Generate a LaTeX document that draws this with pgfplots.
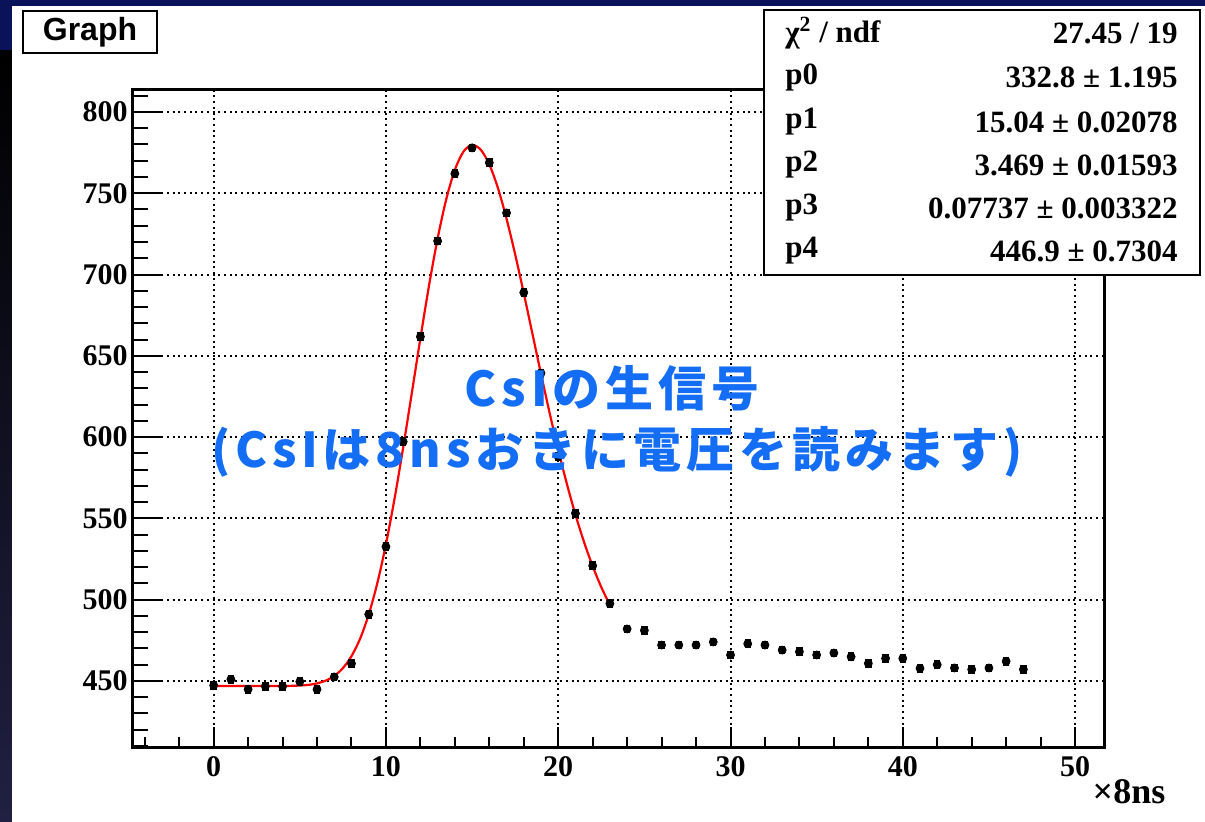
\documentclass[border=0pt]{standalone}
\usepackage{pgfplots}
\pgfplotsset{compat=1.18}
\usepackage{pgfplotstable}
\usepackage{fontspec}
\setmainfont{Liberation Serif}
\newfontfamily\helv{Liberation Sans}
\newfontfamily\jp[LetterSpace=10]{Noto Sans CJK JP}
\definecolor{navy}{RGB}{10,18,90}
\definecolor{txtblue}{RGB}{20,110,245}
\definecolor{strbot}{RGB}{32,32,66}
\definecolor{fitred}{RGB}{255,0,0}

\pgfplotstableread{
x y e
0 447.3 2.2
1 451.0 2.2
2 444.9 2.2
3 446.7 2.2
4 446.7 2.2
5 449.6 2.2
6 444.9 2.2
7 452.5 2.2
8 460.7 2.2
9 491.0 2.2
10 532.6 2.2
11 597.2 2.2
12 661.8 2.2
13 720.6 2.2
14 762.1 2.2
15 777.9 2.2
16 768.8 2.2
17 737.9 2.2
18 688.9 2.2
19 639.3 2.2
20 588.0 2.2
21 553.1 2.2
22 520.9 2.2
23 497.6 2.2
24 482.0 2.2
25 481.1 2.2
26 472.1 2.2
27 472.1 2.2
28 472.1 2.2
29 474.0 2.2
30 466.0 2.2
31 472.9 2.2
32 472.1 2.2
33 469.0 2.2
34 468.0 2.2
35 466.0 2.2
36 467.2 2.2
37 464.9 2.2
38 460.8 2.2
39 463.9 2.2
40 463.9 2.2
41 457.8 2.2
42 460.0 2.2
43 458.0 2.2
44 457.1 2.2
45 458.0 2.2
46 462.1 2.2
47 457.1 2.2
}\datatable

\pgfplotstableread{
x y
0 446.9
1 446.9
2 446.9
3 446.9
4 446.9
4.5 447.0
5 447.2
5.5 447.6
6 448.5
6.5 450.2
7 453.1
7.5 457.9
8 465.3
8.5 476.0
9 490.9
9.5 510.2
10 534.1
10.5 562.2
11 593.6
11.5 627.0
12 660.8
12.5 693.2
13 722.2
13.5 746.3
14 764.4
14.5 775.6
15 779.7
15.5 776.8
16 767.7
16.5 753.2
17 734.3
17.5 712.4
18 688.5
18.5 663.7
19 638.9
19.5 614.9
20 592.2
20.5 571.3
21 552.3
21.5 535.4
22 520.6
22.5 507.7
23 496.7
}\fittable

\begin{document}
\begin{tikzpicture}
% background, in reference pixels (1 px = 0.5bp), origin shifted so the axis sits at (0,0)
\begin{scope}[shift={(-66.35bp,-36.85bp)}, x=0.5bp, y=0.5bp]
\fill[white] (0,0) rectangle (1205,821);
\fill[top color=black,bottom color=strbot] (0,0) rectangle (12,771);
\fill[navy] (0,771) rectangle (12,821);
\fill[navy] (0,815) rectangle (1205,821);
\end{scope}

\begin{axis}[
  at={(0,0)}, anchor=south west,
  scale only axis, width=485.8bp, height=328.8bp,
  xmin=-4.7, xmax=51.7, ymin=409.2, ymax=813.7,
  axis line style={line width=1.3bp, black},
  xtick={-10,0,10,...,60}, ytick={400,450,...,850},
  minor x tick num=4, minor y tick num=4,
  xtick pos=bottom, ytick pos=left,
  tick align=inside,
  xtick style={/pgfplots/major tick length=10bp, /pgfplots/minor tick length=5bp, line width=1bp, black},
  ytick style={/pgfplots/major tick length=15bp, /pgfplots/minor tick length=7.5bp, line width=1bp, black},
  xmajorgrids, ymajorgrids,
  major grid style={black, line width=1bp, dash pattern=on 1bp off 1.85bp},
  /pgf/number format/assume math mode=true,
  ticklabel style={font=\bfseries\fontsize{15bp}{15bp}\selectfont},
  xticklabel style={yshift=-1bp},
  yticklabel style={xshift=1bp},
  clip=false,
]
\addplot[fitred, line width=1.1bp, smooth, no markers] table[x=x, y=y] {\fittable};
\addplot[black, only marks, mark=none,
  error bars/.cd, y dir=both, y explicit,
  error bar style={line width=0.65bp, black},
  error mark options={rotate=90, mark size=1.6bp, line width=0.8bp, black}]
  table[x=x, y=y, y error=e] {\datatable};
\end{axis}

\begin{scope}[shift={(-66.35bp,-36.85bp)}, x=0.5bp, y=0.5bp]
% title box
\node[draw=black, line width=0.8bp, fill=white, minimum width=67bp, minimum height=21bp, inner sep=0pt,
  font=\helv\bfseries\fontsize{16bp}{16bp}\selectfont] at (90,789) {Graph};

% stats box
\draw[black, line width=0.8bp, fill=white] (764,546) rectangle (1200,811);
\begin{scope}[every node/.style={font=\bfseries\fontsize{15.5bp}{15.5bp}\selectfont, inner sep=0pt}]
\node[anchor=west] at (785,788) {χ\textsuperscript{2} / ndf};
\node[anchor=east] at (1178,788) {27.45 / 19};
\node[anchor=west] at (785,744) {p0};
\node[anchor=east] at (1178,744) {332.8 ± 1.195};
\node[anchor=west] at (785,699) {p1};
\node[anchor=east] at (1178,699) {15.04 ± 0.02078};
\node[anchor=west] at (785,656) {p2};
\node[anchor=east] at (1178,656) {3.469 ± 0.01593};
\node[anchor=west] at (785,613) {p3};
\node[anchor=east] at (1178,613) {0.07737 ± 0.003322};
\node[anchor=west] at (785,570) {p4};
\node[anchor=east] at (1178,570) {446.9 ± 0.7304};
\end{scope}

% axis unit label
\node[font=\bfseries\fontsize{18bp}{18bp}\selectfont, inner sep=0pt] at (1129,29) {×8ns};

% annotation
\node[txtblue, font=\jp\bfseries\fontsize{24bp}{24bp}\selectfont, inner sep=0pt] at (612,433) {CsIの生信号};
\node[txtblue, font=\jp\bfseries\fontsize{24bp}{24bp}\selectfont, inner sep=0pt] at (617,369) {(CsIは8nsおきに電圧を読みます)};
\end{scope}
\end{tikzpicture}
\end{document}
